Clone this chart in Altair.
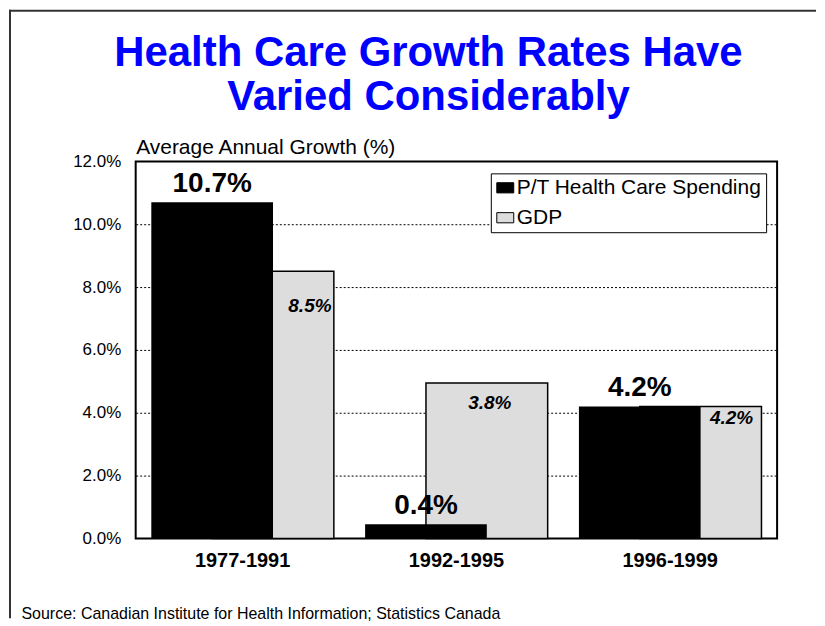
import altair as alt
import pandas as pd

# ---- data ----
periods = ["1977-1991", "1992-1995", "1996-1999"]
series_names = ["P/T Health Care Spending", "GDP"]
pt_values = [10.7, 0.45, 4.2]
gdp_values = [8.5, 4.95, 4.2]
pt_labels = ["10.7%", "0.4%", "4.2%"]
gdp_labels = ["8.5%", "3.8%", "4.2%"]
y_ticks = [0, 2, 4, 6, 8, 10, 12]
title_lines = ["Health Care Growth Rates Have", "Varied Considerably"]
y_title = "Average Annual Growth (%)"
source_text = "Source:  Canadian Institute for Health Information; Statistics Canada"

rows = []
for i, p in enumerate(periods):
    rows.append(dict(period=p, series=series_names[0], value=pt_values[i], label=pt_labels[i]))
    rows.append(dict(period=p, series=series_names[1], value=gdp_values[i], label=gdp_labels[i]))
df = pd.DataFrame(rows)

FONT = "Liberation Sans"
W, H = 643, 378
BAR_W = 122
OFF = 30.5
GRAY = "#DDDDDD"

x = alt.X(
    "period:N", sort=periods,
    scale=alt.Scale(paddingInner=0, paddingOuter=0),
    axis=alt.Axis(
        title=source_text, labelFontSize=20, labelFontWeight="bold", labelColor="black",
        labelFont=FONT, labelPadding=12, ticks=False, domain=False, labelAngle=0,
        titleX=-115, titleY=80, titleAlign="left", titleAnchor="start",
        titleBaseline="alphabetic", titleFontSize=16, titleFontWeight="normal",
        titleColor="black", titleFont=FONT,
    ),
)
y = alt.Y(
    "value:Q",
    scale=alt.Scale(domain=[0, 12], nice=False),
    axis=alt.Axis(
        values=y_ticks, labelExpr="format(datum.value, '.1f') + '%'",
        labelFontSize=17, labelColor="black", labelFont=FONT, labelPadding=15,
        ticks=False, domain=False, grid=True, gridColor="black", gridDash=[2, 2],
        gridWidth=1,
        gridOpacity={"condition": {"test": "datum.value == 0 || datum.value == 12", "value": 0}, "value": 1},
        title=y_title, titleAngle=0, titleX=0, titleY=-8,
        titleAlign="left", titleBaseline="alphabetic", titleFontSize=21,
        titleFontWeight="normal", titleColor="black", titleFont=FONT,
    ),
)
color = alt.Color(
    "series:N",
    scale=alt.Scale(domain=series_names, range=["#000000", GRAY]),
    legend=alt.Legend(
        title=None, orient="none", legendX=356, legendY=12,
        fillColor="white", strokeColor="black", padding=4,
        labelFontSize=21, labelFont=FONT, labelColor="black", labelLimit=400,
        symbolType="M-1,-0.6L1,-0.6L1,0.6L-1,0.6Z", symbolSize=289,
        symbolStrokeColor="black", symbolStrokeWidth=1, symbolOpacity=1,
        labelOffset=1, rowPadding=8,
    ),
)

base = alt.Chart(df).encode(x=x, y=y)

gdp_bar = base.transform_filter(alt.datum.series == "GDP").mark_bar(
    width=BAR_W, xOffset=OFF, stroke="black", strokeWidth=1.5, opacity=1
).encode(color=color)
pt_bar = base.transform_filter(alt.datum.series != "GDP").mark_bar(
    width=BAR_W, xOffset=-OFF, opacity=1
).encode(color=color)

pt_text = base.transform_filter(alt.datum.series != "GDP").mark_text(
    dx=-OFF, dy=-10, baseline="alphabetic", fontSize=28, fontWeight="bold",
    font=FONT, color="black"
).encode(text="label:N")

gdp_label_style = {
    "1977-1991": (OFF + 37, 41),
    "1992-1995": (OFF + 3, 26),
    "1996-1999": (OFF + 31, 18),
}
gdp_texts = []
for p in periods:
    dx, dy = gdp_label_style[p]
    gdp_texts.append(
        base.transform_filter((alt.datum.series == "GDP") & (alt.datum.period == p)).mark_text(
            dx=dx, dy=dy, baseline="alphabetic", fontSize=19, fontWeight="bold",
            fontStyle="italic", font=FONT, color="black"
        ).encode(text="label:N")
    )

one = pd.DataFrame({"k": [0]})
frame_top = alt.Chart(one).mark_rule(color="#333333", strokeWidth=2).encode(
    x=alt.value(-127), x2=alt.value(682), y=alt.value(-151)
)
frame_left = alt.Chart(one).mark_rule(color="#333333", strokeWidth=2).encode(
    x=alt.value(-126), y=alt.value(-152), y2=alt.value(458)
)

chart = alt.layer(
    frame_top, frame_left, gdp_bar, pt_bar, pt_text, *gdp_texts
).properties(
    width=W, height=H, padding=0, background="white",
    title=alt.TitleParams(
        text=title_lines, fontSize=42, font=FONT, fontWeight="bold", color="#0000FF",
        anchor="middle", frame="group", dx=-28, lineHeight=45, offset=-111,
    ),
).configure_view(stroke="black", strokeWidth=2)

chart.save("out.html", embed_options={"renderer": "svg", "actions": False})
